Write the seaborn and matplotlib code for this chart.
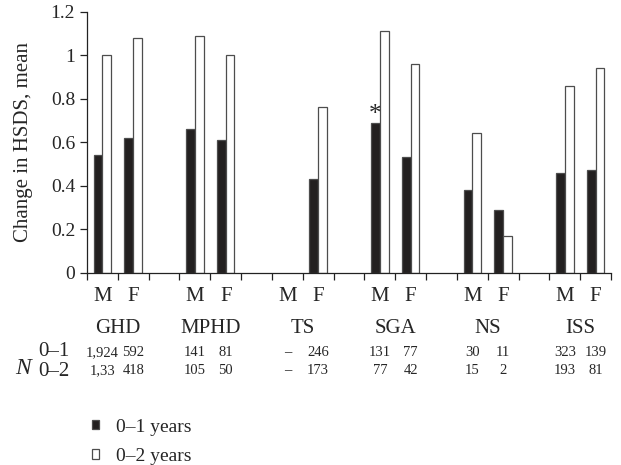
import numpy as np
import pandas as pd
import matplotlib.pyplot as plt
import seaborn as sns

# Data
groups = ["GHD", "MPHD", "TS", "SGA", "NS", "ISS"]
sexes = ["M", "F"]
periods = ["0–1 years", "0–2 years"]
change_01 = [0.54, 0.62, 0.66, 0.61, np.nan, 0.43, 0.69, 0.53, 0.38, 0.29, 0.46, 0.47]
change_02 = [1.00, 1.08, 1.09, 1.00, np.nan, 0.76, 1.11, 0.96, 0.64, 0.17, 0.86, 0.94]
n_01 = ["1,924", "592", "141", "81", "–", "246", "131", "77", "30", "11", "323", "139"]
n_02 = ["1,33", "418", "105", "50", "–", "173", "77", "42", "15", "2", "193", "81"]
yticks = [0, 0.2, 0.4, 0.6, 0.8, 1.0, 1.2]

sns.set_style("ticks")
plt.rcParams["font.family"] = ["Liberation Serif", "DejaVu Serif"]

rows = []
for gi, g in enumerate(groups):
    for si, s in enumerate(sexes):
        k = gi * 2 + si
        rows.append({"slot": f"{g} {s}", "period": periods[0], "value": change_01[k]})
        rows.append({"slot": f"{g} {s}", "period": periods[1], "value": change_02[k]})
df = pd.DataFrame(rows).dropna()

order = []
for gi, g in enumerate(groups):
    order += [f"{g} {s}" for s in sexes]
    if gi < len(groups) - 1:
        order.append(f"gap{gi}")

fig = plt.figure(figsize=(6.21, 4.65), dpi=100)
ax = fig.add_axes([0.1401, 0.4135, 0.8438, 0.5615])

bar_w = 0.57
sns.barplot(data=df, x="slot", y="value", hue="period", order=order, hue_order=periods,
            palette=["#231f20", "white"], width=bar_w, edgecolor="#4d4d4d", linewidth=0.9,
            errorbar=None, ax=ax)

ax.set_xlim(-0.5, len(order) - 0.5)
ax.set_ylim(0, 1.2)
ax.set_xticks(np.arange(-0.5, len(order), 1.0))
ax.set_xticklabels([])
ax.set_xlabel("")
ax.set_yticks(yticks)
ax.set_yticklabels([f"{t:g}" for t in yticks], fontsize=14)
ax.tick_params(axis="both", direction="out", length=5, width=0.9, color="#222")
ax.set_ylabel("Change in HSDS, mean", fontsize=15)
ax.yaxis.set_label_coords(-0.104, 0.5)
sns.despine(ax=ax)
for sp in ["left", "bottom"]:
    ax.spines[sp].set_linewidth(0.9)
    ax.spines[sp].set_color("#222")

# asterisk over SGA male 0-1
xs = order.index("SGA M") - bar_w / 4
ax.text(xs, change_01[6] + 0.035, "*", ha="center", va="center", fontsize=18)

# labels under the axis
tr = ax.get_xaxis_transform()
for gi, g in enumerate(groups):
    base = order.index(f"{g} M")
    for si, s in enumerate(sexes):
        k = gi * 2 + si
        ax.text(base + si, -0.09, s, transform=tr, ha="center", va="center", fontsize=15)
        ax.text(base + si, -0.305, n_01[k], transform=tr, ha="center", va="center", fontsize=10.5)
        ax.text(base + si, -0.375, n_02[k], transform=tr, ha="center", va="center", fontsize=10.5)
    ax.text(base + 0.5, -0.212, g, transform=tr, ha="center", va="center", fontsize=15)

fig.text(54 / 621, 1 - 352 / 465, "0–1", ha="center", va="center", fontsize=15)
fig.text(54 / 621, 1 - 371 / 465, "0–2", ha="center", va="center", fontsize=15)
fig.text(23 / 621, 1 - 368 / 465, "N", ha="center", va="center", fontsize=17, style="italic")

sns.move_legend(ax, "upper left", bbox_to_anchor=(0.148, 0.1), bbox_transform=fig.transFigure,
                frameon=False, title=None, fontsize=14, handlelength=0.38, handleheight=0.38,
                handletextpad=0.85, labelspacing=0.65, borderpad=0, borderaxespad=0)

fig.savefig("out.png", dpi=100)
